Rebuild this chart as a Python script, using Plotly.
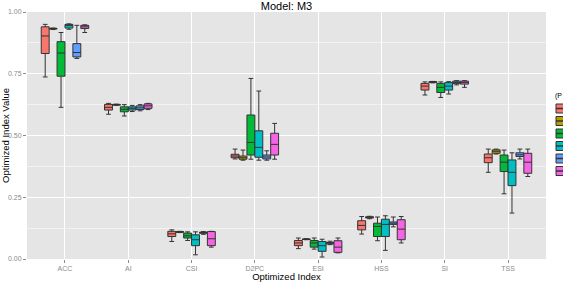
import plotly.graph_objects as go

categories = ["ACC", "AI", "CSI", "D2PC", "ESI", "HSS", "SI", "TSS"]
groups = ["P1", "P2", "P3", "P4", "P5", "P6"]
colors = ["#F8766D", "#B79F00", "#00BA38", "#00BFC4", "#619CFF", "#F564E3"]

# per group: values for ACC, AI, CSI, D2PC, ESI, HSS, SI, TSS
lower = [
    [0.737, 0.586, 0.071, 0.405, 0.042, 0.101, 0.664, 0.351],
    [0.929, 0.622, 0.107, 0.400, 0.078, 0.163, 0.713, 0.425],
    [0.614, 0.579, 0.075, 0.404, 0.040, 0.074, 0.654, 0.264],
    [0.930, 0.597, 0.017, 0.400, 0.008, 0.035, 0.668, 0.186],
    [0.812, 0.600, 0.100, 0.400, 0.058, 0.130, 0.705, 0.405],
    [0.917, 0.605, 0.048, 0.404, 0.025, 0.065, 0.695, 0.334],
]
q1 = [
    [0.832, 0.603, 0.091, 0.410, 0.054, 0.118, 0.684, 0.390],
    [0.931, 0.623, 0.108, 0.404, 0.079, 0.166, 0.715, 0.428],
    [0.740, 0.596, 0.085, 0.421, 0.048, 0.091, 0.674, 0.354],
    [0.935, 0.603, 0.054, 0.412, 0.031, 0.091, 0.684, 0.297],
    [0.818, 0.605, 0.104, 0.405, 0.061, 0.140, 0.710, 0.415],
    [0.933, 0.610, 0.054, 0.421, 0.027, 0.078, 0.708, 0.347],
]
median = [
    [0.903, 0.614, 0.102, 0.417, 0.065, 0.136, 0.700, 0.410],
    [0.933, 0.625, 0.110, 0.410, 0.080, 0.169, 0.717, 0.436],
    [0.834, 0.606, 0.094, 0.472, 0.065, 0.132, 0.695, 0.392],
    [0.945, 0.610, 0.078, 0.452, 0.054, 0.140, 0.700, 0.351],
    [0.836, 0.612, 0.107, 0.413, 0.064, 0.145, 0.715, 0.422],
    [0.940, 0.620, 0.082, 0.464, 0.048, 0.121, 0.714, 0.392],
]
q3 = [
    [0.940, 0.626, 0.112, 0.424, 0.075, 0.155, 0.711, 0.425],
    [0.934, 0.626, 0.111, 0.417, 0.081, 0.171, 0.718, 0.442],
    [0.880, 0.616, 0.105, 0.583, 0.075, 0.145, 0.711, 0.421],
    [0.950, 0.616, 0.098, 0.519, 0.071, 0.161, 0.714, 0.401],
    [0.872, 0.620, 0.109, 0.421, 0.067, 0.150, 0.720, 0.430],
    [0.946, 0.628, 0.111, 0.509, 0.074, 0.159, 0.720, 0.428],
]
upper = [
    [0.950, 0.630, 0.118, 0.445, 0.085, 0.172, 0.717, 0.445],
    [0.935, 0.627, 0.112, 0.441, 0.082, 0.173, 0.719, 0.445],
    [0.917, 0.625, 0.110, 0.731, 0.085, 0.170, 0.717, 0.441],
    [0.952, 0.622, 0.110, 0.680, 0.080, 0.175, 0.718, 0.430],
    [0.946, 0.625, 0.111, 0.438, 0.072, 0.170, 0.722, 0.445],
    [0.948, 0.630, 0.112, 0.549, 0.085, 0.172, 0.722, 0.445],
]

y_ticks = [0.0, 0.25, 0.5, 0.75, 1.0]
y_ticktext = ["0.00", "0.25", "0.50", "0.75", "1.00"]

W, H = 563, 282
L, R, T, B = 27, 17, 12, 23
FONT = "Liberation Sans, Arial, sans-serif"

fig = go.Figure()
for i, g in enumerate(groups):
    fig.add_trace(go.Box(
        name=g,
        x=categories,
        lowerfence=lower[i], q1=q1[i], median=median[i], q3=q3[i], upperfence=upper[i],
        fillcolor=colors[i],
        line=dict(color="#333333", width=1),
        whiskerwidth=0.6,
        showlegend=False,
        hoverinfo="skip",
    ))

pw = W - L - R
ph = H - T - B

def px_x(p):
    return (p - L) / pw

def px_y(p):
    return (H - B - p) / ph

shapes = []
key_top = 104
key_step = 12.5
for i, c in enumerate(colors):
    yc = key_top + 4.5 + i * key_step
    shapes.append(dict(type="rect", xref="paper", yref="paper",
                       x0=px_x(556), x1=px_x(568), y0=px_y(yc - 4.5), y1=px_y(yc + 4.5),
                       fillcolor=c, line=dict(color="#333333", width=1), layer="above"))
    shapes.append(dict(type="line", xref="paper", yref="paper",
                       x0=px_x(556), x1=px_x(568), y0=px_y(yc), y1=px_y(yc),
                       line=dict(color="#333333", width=1.5), layer="above"))

fig.update_layout(
    width=W, height=H,
    margin=dict(l=L, r=R, t=T, b=B, autoexpand=False),
    paper_bgcolor="white",
    plot_bgcolor="#E5E5E5",
    boxmode="group",
    boxgap=0.25,
    boxgroupgap=0,
    font=dict(family=FONT, color="#000000"),
    title=dict(text="Model: M3", x=px_x((L + W - R) / 2) * pw / W + L / W, xanchor="center",
               y=1 - 6.5 / H, yanchor="middle", font=dict(size=11, color="#000000")),
    xaxis=dict(
        type="category", categoryorder="array", categoryarray=categories,
        range=[-0.6, len(categories) - 0.4],
        showgrid=True, gridcolor="#FFFFFF", gridwidth=1,
        ticks="outside", ticklen=3, tickcolor="#8a8a8a",
        tickfont=dict(size=7, color="#8a8a8a"),
        title=dict(text="Optimized Index", font=dict(size=9.5, color="#000000"), standoff=3),
        zeroline=False, showline=False, automargin=False,
    ),
    yaxis=dict(
        range=[0, 1], tickvals=y_ticks, ticktext=y_ticktext,
        showgrid=True, gridcolor="#FFFFFF", gridwidth=1,
        minor=dict(dtick=0.125, tick0=0, showgrid=True, gridcolor="#F2F2F2", gridwidth=0.6, ticklen=0),
        ticks="outside", ticklen=3, tickcolor="#8a8a8a",
        tickfont=dict(size=7, color="#8a8a8a"),
        title=dict(text="Optimized Index Value", font=dict(size=9.5, color="#000000"), standoff=2),
        zeroline=False, showline=False, automargin=False,
    ),
    shapes=shapes,
    annotations=[dict(text="(P", xref="paper", yref="paper", x=px_x(553), y=px_y(96),
                      xanchor="left", yanchor="middle", showarrow=False,
                      font=dict(size=7, color="#000000"))],
)

fig.write_html("out.html")
